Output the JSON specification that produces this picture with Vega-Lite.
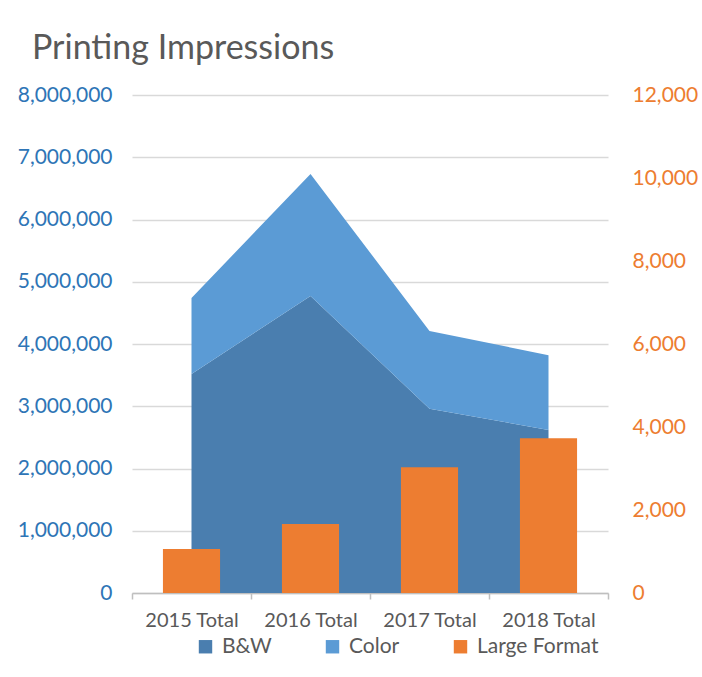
{
  "$schema": "https://vega.github.io/schema/vega-lite/v6.json",
  "width": 476,
  "height": 498,
  "autosize": {"type": "none"},
  "padding": {"left": 132, "top": 95, "right": 94, "bottom": 84},
  "background": "white",
  "title": {
    "text": "Printing Impressions",
    "anchor": "start",
    "frame": "group",
    "dx": -100,
    "offset": 18,
    "font": "Lato",
    "fontSize": 34,
    "fontWeight": "normal",
    "color": "#595959"
  },
  "config": {
    "view": {"stroke": null},
    "font": "Lato"
  },
  "data": {
    "values": [
      {"year": "2015 Total", "series": "B&W", "impressions": 3520000},
      {"year": "2016 Total", "series": "B&W", "impressions": 4770000},
      {"year": "2017 Total", "series": "B&W", "impressions": 2960000},
      {"year": "2018 Total", "series": "B&W", "impressions": 2620000},
      {"year": "2015 Total", "series": "Color", "impressions": 1220000},
      {"year": "2016 Total", "series": "Color", "impressions": 1960000},
      {"year": "2017 Total", "series": "Color", "impressions": 1250000},
      {"year": "2018 Total", "series": "Color", "impressions": 1200000},
      {"year": "2015 Total", "series": "Large Format", "large": 1060},
      {"year": "2016 Total", "series": "Large Format", "large": 1660},
      {"year": "2017 Total", "series": "Large Format", "large": 3030},
      {"year": "2018 Total", "series": "Large Format", "large": 3730}
    ]
  },
  "encoding": {
    "x": {
      "field": "year",
      "type": "nominal",
      "scale": {"paddingInner": 0, "paddingOuter": 0},
      "axis": {
        "title": null,
        "labelAngle": 0,
        "labelFontSize": 20,
        "labelColor": "#595959",
        "labelPadding": 11,
        "domainColor": "#BFBFBF",
        "domainWidth": 1.5,
        "tickColor": "#BFBFBF",
        "tickWidth": 1.5,
        "tickSize": 6,
        "tickBand": "extent",
        "grid": false
      }
    }
  },
  "layer": [
    {
      "transform": [{"filter": "datum.series !== 'Large Format'"}],
      "mark": {"type": "area", "opacity": 1},
      "encoding": {
        "x": {"field": "year", "type": "nominal", "bandPosition": 0.5},
        "y": {
          "field": "impressions",
          "type": "quantitative",
          "stack": "zero",
          "scale": {"domain": [0, 8000000]},
          "axis": {
            "title": null,
            "orient": "left",
            "values": [0, 1000000, 2000000, 3000000, 4000000, 5000000, 6000000, 7000000, 8000000],
            "format": ",d",
            "labelFontSize": 21,
            "labelColor": "#2E75B6",
            "labelPadding": 20,
            "domain": false,
            "ticks": false,
            "grid": true,
            "gridColor": "#D9D9D9",
            "gridWidth": 1.5
          }
        },
        "color": {
          "field": "series",
          "type": "nominal",
          "scale": {
            "domain": ["B&W", "Color", "Large Format"],
            "range": ["#4A7EAF", "#5B9BD5", "#ED7D31"]
          },
          "legend": {
            "title": null,
            "orient": "none",
            "legendX": 63,
            "legendY": 541,
            "direction": "horizontal",
            "symbolType": "square",
            "symbolSize": 180,
            "symbolStrokeWidth": 0,
            "labelFontSize": 21,
            "labelColor": "#595959",
            "labelOffset": 6,
            "columnPadding": 50
          }
        },
        "order": {"field": "series", "sort": "ascending"}
      }
    },
    {
      "transform": [{"filter": "datum.series === 'Large Format'"}],
      "mark": {"type": "bar", "width": {"band": 0.48}},
      "encoding": {
        "y": {
          "field": "large",
          "type": "quantitative",
          "scale": {"domain": [0, 12000]},
          "axis": {
            "title": null,
            "orient": "right",
            "values": [0, 2000, 4000, 6000, 8000, 10000, 12000],
            "format": ",d",
            "labelFontSize": 21,
            "labelColor": "#ED7D31",
            "labelPadding": 24,
            "domain": false,
            "ticks": false,
            "grid": false
          }
        },
        "color": {"field": "series", "type": "nominal"}
      }
    }
  ],
  "resolve": {"scale": {"y": "independent"}}
}
